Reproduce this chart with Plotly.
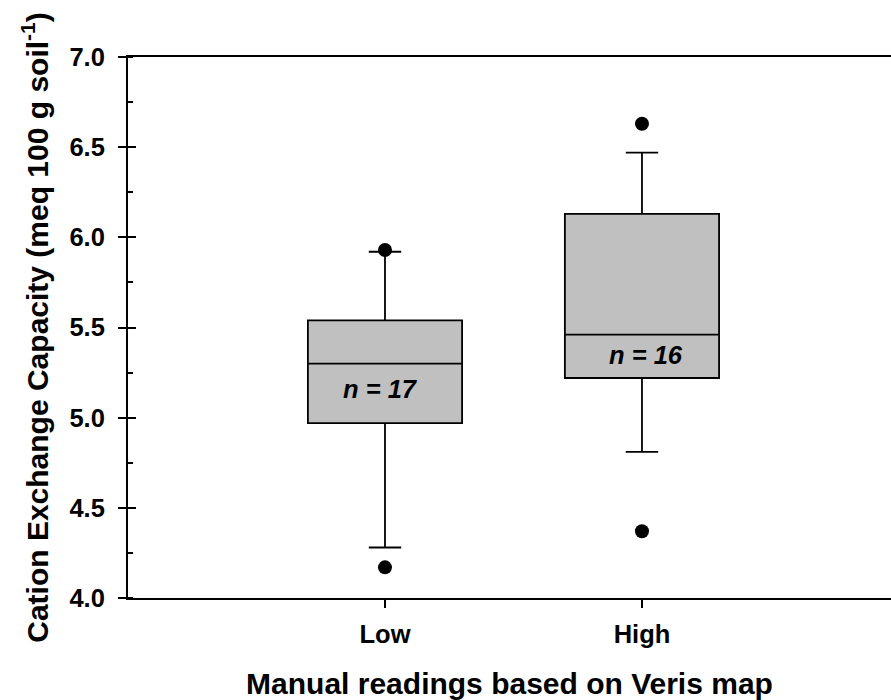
import plotly.graph_objects as go

# Groups from the Veris map and their box statistics (CEC, meq 100 g soil^-1)
categories = ["Low", "High"]
q1 = [4.97, 5.22]
median = [5.30, 5.46]
q3 = [5.54, 6.13]
lower_whisker = [4.28, 4.81]
upper_whisker = [5.92, 6.47]
sample_sizes = [17, 16]

# Points beyond the whiskers
outlier_group = ["Low", "Low", "High", "High"]
outlier_values = [5.93, 4.17, 6.63, 4.37]

y_ticks = [4.0, 4.5, 5.0, 5.5, 6.0, 6.5, 7.0]

FONT = "Arial, Liberation Sans, sans-serif"
pos = {c: i + 1 for i, c in enumerate(categories)}

fig = go.Figure()

fig.add_trace(go.Box(
    x=[pos[c] for c in categories],
    q1=q1, median=median, q3=q3,
    lowerfence=lower_whisker, upperfence=upper_whisker,
    width=0.6,
    whiskerwidth=0.21,
    boxpoints=False,
    fillcolor="#c0c0c0",
    line=dict(color="black", width=1.8),
    showlegend=False,
    hoverinfo="skip",
))

fig.add_trace(go.Scatter(
    x=[pos[c] for c in outlier_group],
    y=outlier_values,
    mode="markers",
    marker=dict(color="black", size=14),
    showlegend=False,
    yaxis="y2",
))

for c, n, shift, yv in zip(categories, sample_sizes, [-4, 4], [5.16, 5.35]):
    fig.add_annotation(
        x=pos[c], y=yv, xshift=shift,
        text=f"<b><i>n = {n}</i></b>",
        showarrow=False,
        font=dict(family=FONT, size=25.5, color="black"),
    )

fig.update_layout(
    width=891, height=700,
    margin=dict(l=128, r=0, t=57, b=102),
    plot_bgcolor="white", paper_bgcolor="white",
    font=dict(family=FONT, color="black"),
    xaxis=dict(
        range=[0, 2.969],
        tickvals=[pos[c] for c in categories],
        ticktext=[f"<b>{c}</b>" for c in categories],
        tickfont=dict(size=25.5),
        ticks="outside", ticklen=8, tickwidth=1.5, tickcolor="black",
        ticklabelstandoff=4,
        showline=True, linecolor="black", linewidth=2, mirror=True,
        showgrid=False, zeroline=False,
        title=dict(text="<b>Manual readings based on Veris map</b>",
                   font=dict(size=30), standoff=28),
    ),
    yaxis=dict(
        range=[4.0, 7.0],
        tickvals=y_ticks,
        ticktext=[f"<b>{v:.1f}</b>" for v in y_ticks],
        tickfont=dict(size=25.5),
        ticks="outside", ticklen=8, tickwidth=1.5, tickcolor="black",
        ticklabelstandoff=8,
        minor=dict(ticks="inside", ticklen=5, dtick=0.25, tickwidth=1.5,
                   tickcolor="black"),
        showline=True, linecolor="black", linewidth=2,
        showgrid=False, zeroline=False,
        title=dict(text="<b>Cation Exchange Capacity (meq 100 g soil<sup>-1</sup>)</b>",
                   font=dict(size=30), standoff=12),
    ),
    yaxis2=dict(
        range=[4.0, 7.0], overlaying="y", side="left",
        tickvals=y_ticks, showticklabels=False,
        ticks="inside", ticklen=8, tickwidth=1.5, tickcolor="black",
        showgrid=False, zeroline=False, showline=False,
    ),
)

fig.write_html("out.html")
